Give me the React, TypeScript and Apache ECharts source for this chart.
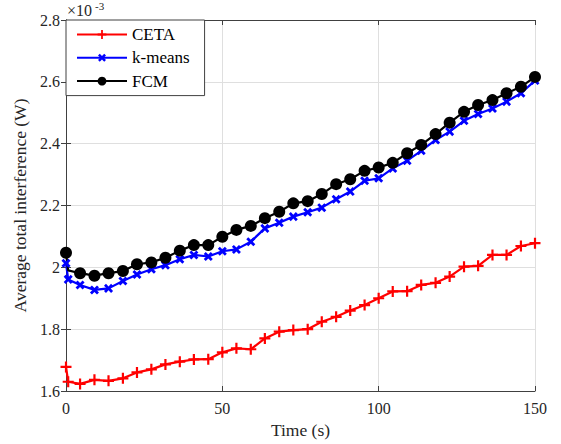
import React, { useEffect, useRef } from "react";
import * as echarts from "echarts";

// Time instants (s) at which the interference was sampled
const timeSteps = [
  0, 0.7, 4.5, 9.1, 13.6, 18.2, 22.7, 27.3, 31.8, 36.4, 40.9, 45.5, 50, 54.5,
  59.1, 63.6, 68.2, 72.7, 77.3, 81.8, 86.4, 90.9, 95.5, 100, 104.5, 109.1,
  113.6, 118.2, 122.7, 127.3, 131.8, 136.4, 140.9, 145.5, 150,
];

// Average total interference, in units of 1e-3 W
const cetaValues = [
  1.678, 1.63, 1.623, 1.636, 1.633, 1.641, 1.66, 1.67, 1.686, 1.695, 1.702,
  1.703, 1.725, 1.738, 1.735, 1.77, 1.792, 1.797, 1.8, 1.824, 1.84, 1.86,
  1.878, 1.9, 1.922, 1.923, 1.943, 1.95, 1.97, 2.002, 2.005, 2.04, 2.04,
  2.069, 2.078,
];
const kmeansValues = [
  2.013, 1.961, 1.943, 1.927, 1.932, 1.956, 1.977, 1.994, 2.007, 2.026, 2.04,
  2.035, 2.052, 2.058, 2.083, 2.126, 2.144, 2.164, 2.178, 2.193, 2.22, 2.245,
  2.28, 2.288, 2.32, 2.345, 2.377, 2.412, 2.439, 2.474, 2.496, 2.514, 2.536,
  2.563, 2.604,
];
const fcmValues = [
  2.047, 1.99, 1.981, 1.973, 1.981, 1.988, 2.01, 2.016, 2.031, 2.054, 2.072,
  2.072, 2.099, 2.121, 2.134, 2.159, 2.18, 2.207, 2.214, 2.237, 2.269, 2.285,
  2.312, 2.323, 2.338, 2.369, 2.396, 2.431, 2.468, 2.503, 2.525, 2.541, 2.563,
  2.584, 2.616,
];

const xTicks = { min: 0, max: 150, step: 50 };
const yTicks = { min: 1.6, max: 2.8, step: 0.2 };

const FONT = "'Liberation Serif', 'Times New Roman', serif";
const AXIS_COLOR = "#404040";
const GRID_COLOR = "#dfdfdf";

const PLUS = "path://M4,0H6V4H10V6H6V10H4V6H0V4H4Z";
const CROSS = "path://M3.6,0H6.4V3.6H10V6.4H6.4V10H3.6V6.4H0V3.6H3.6Z";

function App() {
  const ref = useRef<HTMLDivElement>(null);

  useEffect(() => {
    if (!ref.current) return;
    const chart = echarts.init(ref.current, undefined, { renderer: "svg" });

    const pairs = (ys: number[], hideSecond = false) =>
      ys.map((y, i) =>
        hideSecond && i === 1
          ? { value: [timeSteps[i], y], symbol: "none" }
          : { value: [timeSteps[i], y] }
      );

    const tickStyle = {
      show: true,
      inside: true,
      length: 5,
      lineStyle: { color: AXIS_COLOR, width: 1 },
    };
    const lineStyle = { show: true, lineStyle: { color: AXIS_COLOR, width: 1 } };

    const xBase = {
      type: "value" as const,
      min: xTicks.min,
      max: xTicks.max,
      interval: xTicks.step,
      axisLine: lineStyle,
      axisTick: tickStyle,
    };
    const yBase = {
      type: "value" as const,
      min: yTicks.min,
      max: yTicks.max,
      interval: yTicks.step,
      axisLine: lineStyle,
      axisTick: tickStyle,
    };

    chart.setOption({
      animation: false,
      backgroundColor: "#ffffff",
      textStyle: { fontFamily: FONT },
      grid: {
        left: 66,
        top: 20,
        right: 26,
        bottom: 53,
        containLabel: false,
        outerBoundsMode: "none",
      },
      xAxis: [
        {
          ...xBase,
          position: "bottom",
          name: "Time (s)",
          nameLocation: "middle",
          nameGap: 30,
          nameTextStyle: { fontFamily: FONT, fontSize: 17.5, color: "#262626" },
          axisLabel: {
            margin: 9,
            fontFamily: FONT,
            fontSize: 16,
            color: "#262626",
          },
          splitLine: { show: true, lineStyle: { color: GRID_COLOR, width: 1 } },
        },
        {
          ...xBase,
          position: "top",
          axisLabel: { show: false },
          splitLine: { show: false },
        },
      ],
      yAxis: [
        {
          ...yBase,
          position: "left",
          name: "Average total interference (W)",
          nameLocation: "middle",
          nameGap: 33,
          nameTextStyle: { fontFamily: FONT, fontSize: 17.5, color: "#262626" },
          axisLabel: {
            margin: 6,
            fontFamily: FONT,
            fontSize: 16,
            color: "#262626",
            formatter: (v: number) => String(parseFloat(v.toFixed(1))),
          },
          splitLine: { show: true, lineStyle: { color: GRID_COLOR, width: 1 } },
        },
        {
          ...yBase,
          position: "right",
          axisLabel: { show: false },
          splitLine: { show: false },
        },
      ],
      legend: {
        orient: "vertical",
        left: 66,
        top: 20,
        padding: [6, 15, 6, 10],
        itemWidth: 50,
        itemHeight: 11,
        itemGap: 6.3,
        backgroundColor: "#ffffff",
        borderColor: AXIS_COLOR,
        borderWidth: 1,
        borderRadius: 0,
        textStyle: {
          fontFamily: FONT,
          fontSize: 17,
          lineHeight: 17,
          color: "#000000",
        },
        data: ["CETA", "k-means", "FCM"],
      },
      graphic: [
        {
          type: "text",
          left: 67,
          top: 2,
          style: {
            text: "×10",
            font: `16px ${FONT}`,
            fill: "#262626",
          },
        },
        {
          type: "text",
          left: 95,
          top: 0,
          style: {
            text: "-3",
            font: `11px ${FONT}`,
            fill: "#262626",
          },
        },
      ],
      series: [
        {
          name: "CETA",
          type: "line",
          data: pairs(cetaValues),
          symbol: PLUS,
          symbolSize: 11,
          showAllSymbol: true,
          lineStyle: { color: "#ff0000", width: 2.2 },
          itemStyle: { color: "#ff0000" },
        },
        {
          name: "k-means",
          type: "line",
          data: pairs(kmeansValues),
          symbol: CROSS,
          symbolSize: 10,
          symbolRotate: 45,
          showAllSymbol: true,
          lineStyle: { color: "#0000ff", width: 2.2 },
          itemStyle: { color: "#0000ff" },
        },
        {
          name: "FCM",
          type: "line",
          data: pairs(fcmValues, true),
          symbol: "circle",
          symbolSize: 12,
          showAllSymbol: true,
          lineStyle: { color: "#000000", width: 2.2 },
          itemStyle: { color: "#000000" },
        },
      ],
    });

    return () => chart.dispose();
  }, []);

  return (
    <div
      ref={ref}
      style={{ position: "fixed", left: 0, top: 0, width: 561, height: 444 }}
    />
  );
}

export default App;
